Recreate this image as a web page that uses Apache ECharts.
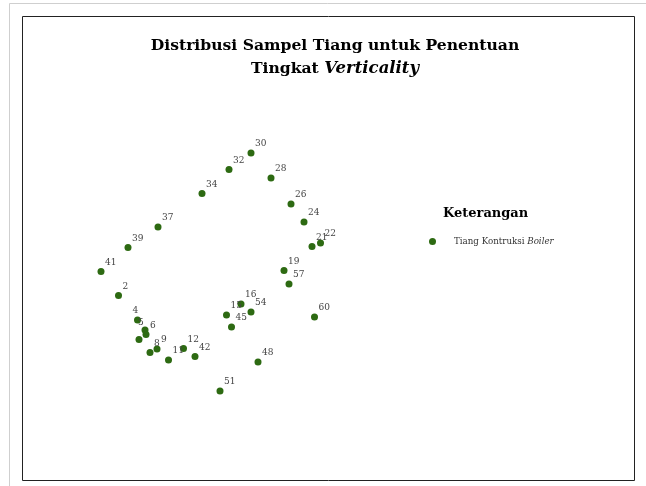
<!DOCTYPE html>
<html>
<head>
<meta charset="utf-8">
<script src="https://cdn.jsdelivr.net/npm/echarts@6/dist/echarts.min.js"></script>
<style>
  html, body { margin: 0; padding: 0; background: #fff; }
  #chart { width: 646px; height: 486px; }
</style>
</head>
<body>
<div id="chart"></div>
<script>
// nomor tiang dan posisinya (dibaca dari peta)
const poleIds = ['30', '32', '28', '34', '26', '24', '37', '21', '22', '39',
  '19', '41', '57', '2', '16', '54', '15', '60', '4', '45',
  '5', '6', '7', '9', '12', '8', '42', '11', '48', '51']
const poleX = [251, 229, 271, 202, 291, 304, 158, 312, 320.5, 128,
  284, 101, 289, 118.5, 241, 251, 226.5, 314.5, 137.5, 231.5,
  145, 146, 139, 157, 183.5, 150, 195, 168.5, 258, 220]
const poleY = [153, 169.5, 178, 193.5, 204, 222, 227, 246.5, 243, 247.5,
  270.5, 271.5, 284, 295.5, 304, 312, 315, 317, 320, 327,
  330, 334.5, 339.5, 349, 348.5, 352.5, 356.5, 360, 362, 391]

const seriesName = 'Tiang Kontruksi Boiler'
const serif = 'DejaVu Serif'

// label tiang yang letaknya beda dari biasanya
const labelOverride = {
  '4': { offset: [-9, -9] },
  '5': { offset: [-11, -7] },
  '7': { show: false }
}

const points = poleIds.map((id, i) => {
  const item = { name: id, value: [poleX[i], poleY[i]] }
  if (labelOverride[id]) item.label = labelOverride[id]
  return item
})

const chart = echarts.init(document.getElementById('chart'))

const option = {
  backgroundColor: '#fff',
  animation: false,
  title: [
    {
      text: 'Distribusi Sampel Tiang untuk Penentuan\nTingkat {i|Verticality}',
      left: 330,
      top: 29,
      textAlign: 'center',
      textStyle: {
        fontFamily: serif,
        fontWeight: 'bold',
        fontSize: 15.6,
        lineHeight: 23,
        color: '#000',
        rich: {
          i: { fontFamily: serif, fontWeight: 'bold', fontStyle: 'italic', fontSize: 16.5, color: '#000' }
        }
      }
    },
    {
      text: 'Keterangan',
      left: 438,
      top: 202,
      textStyle: { fontFamily: serif, fontWeight: 'bold', fontSize: 13, color: '#000' }
    }
  ],
  legend: {
    left: 424,
    top: 232,
    icon: 'circle',
    itemWidth: 7,
    itemHeight: 7,
    data: [seriesName],
    formatter: () => '{a|Tiang Kontruksi }{b|Boiler}',
    textStyle: {
      rich: {
        a: { fontFamily: serif, fontSize: 8.7, color: '#333', padding: [0, 0, 0, 13] },
        b: { fontFamily: serif, fontSize: 8.7, fontStyle: 'italic', color: '#333' }
      }
    }
  },
  grid: { left: 0, top: 0, right: 0, bottom: 0 },
  xAxis: { type: 'value', min: 0, max: 646, show: false },
  yAxis: { type: 'value', min: 0, max: 486, inverse: true, show: false },
  series: [
    {
      name: seriesName,
      type: 'scatter',
      symbolSize: 7,
      itemStyle: { color: '#2d6a12', opacity: 1 },
      label: {
        show: true,
        position: 'right',
        distance: 0.5,
        offset: [0, -9],
        formatter: '{b}',
        fontFamily: serif,
        fontSize: 9,
        color: '#444'
      },
      data: points
    }
  ],
  graphic: [
    {
      type: 'polyline',
      shape: { points: [[9.5, 486], [9.5, 3.5], [646, 3.5]] },
      style: { stroke: '#cfcfcf', lineWidth: 1, fill: null },
      silent: true
    },
    {
      type: 'rect',
      shape: { x: 22.5, y: 16.5, width: 612, height: 464 },
      style: { stroke: '#222', lineWidth: 1, fill: null },
      silent: true
    }
  ]
}

chart.setOption(option)
window.addEventListener('resize', () => chart.resize())
</script>
</body>
</html>
